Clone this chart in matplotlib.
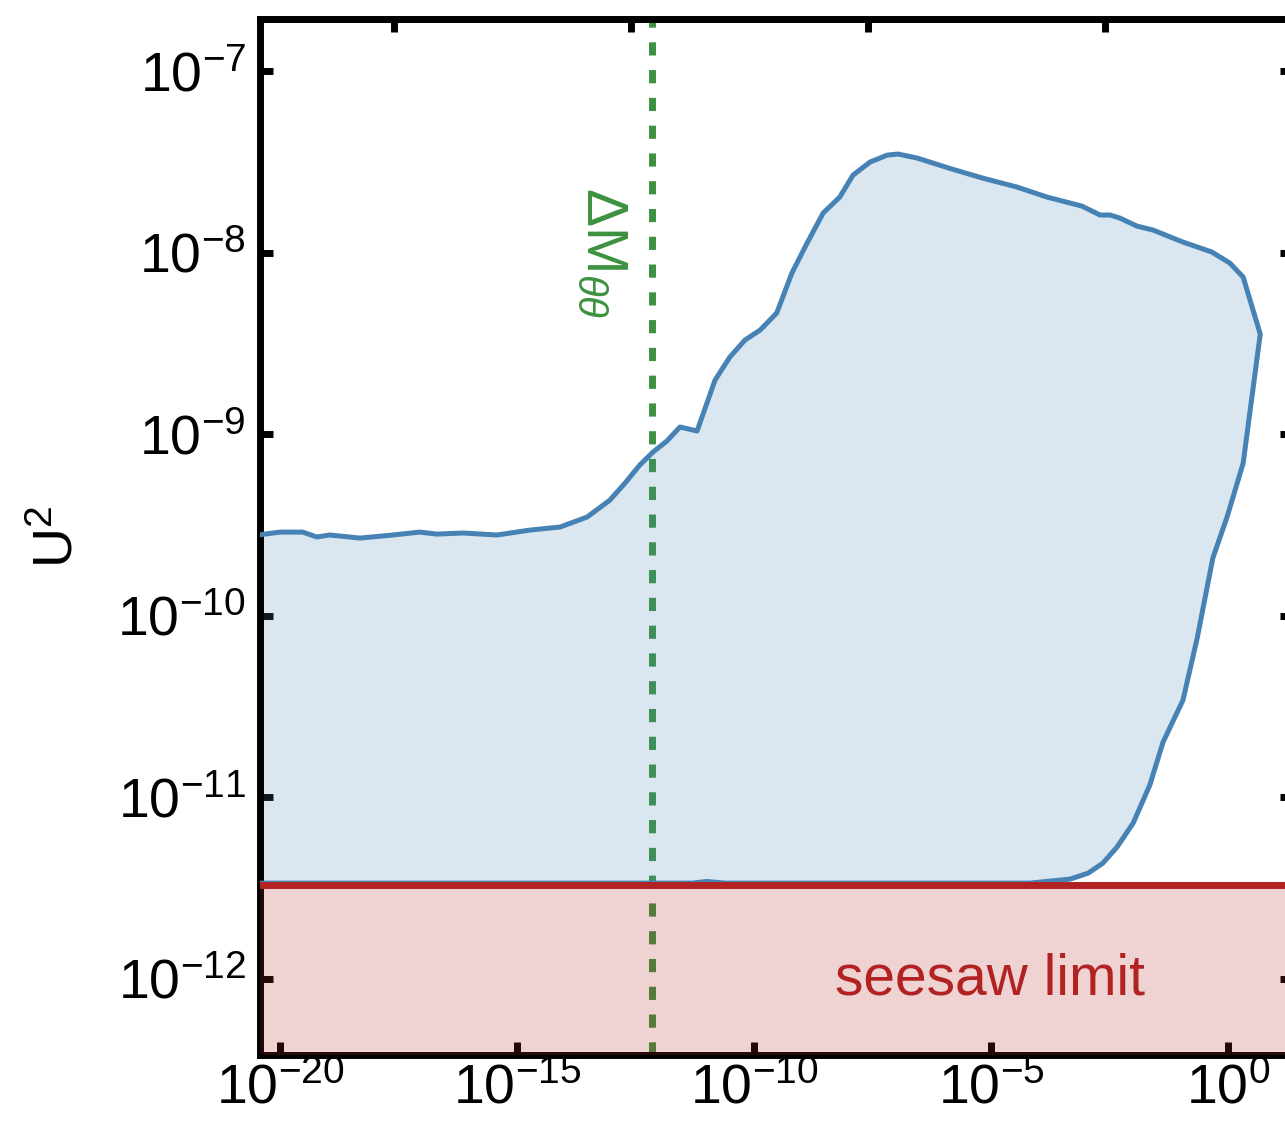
# %%
import numpy as np
import matplotlib.pyplot as plt
from matplotlib.ticker import NullLocator, NullFormatter

plt.rcParams['font.family'] = ['Liberation Sans', 'DejaVu Sans']
plt.rcParams['mathtext.fontset'] = 'custom'
plt.rcParams['mathtext.rm'] = 'Liberation Sans'
plt.rcParams['mathtext.it'] = 'Liberation Sans:italic'
plt.rcParams['mathtext.bf'] = 'Liberation Sans:bold'

# %%
## data (log10 of M and U^2 along the region edge)
edge_log_m = [-20.46, -20.0, -19.52, -19.22, -18.95, -18.31, -17.62, -17.05, -16.69,
              -16.14, -15.42, -14.73, -14.09, -13.52, -13.04, -12.72, -12.41, -12.13,
              -11.84, -11.56, -11.20, -10.82, -10.51, -10.19, -9.87, -9.52, -9.20,
              -8.88, -8.54, -8.19, -7.91, -7.55, -7.19, -6.96, -6.56, -6.22, -5.82,
              -5.17, -4.45, -3.82, -3.08, -2.70, -2.49, -2.28, -1.92, -1.58, -0.95,
              -0.34, 0.04, 0.32, 0.68, 0.32, -0.02, -0.32, -0.65, -0.95, -1.37,
              -1.65, -2.00, -2.34, -2.64, -2.95, -3.33, -3.76, -4.18, -7.0, -10.6,
              -11.0, -11.3, -20.46]
edge_log_u2 = [-9.556, -9.540, -9.540, -9.567, -9.556, -9.573, -9.556, -9.540, -9.551,
               -9.545, -9.556, -9.529, -9.512, -9.457, -9.364, -9.270, -9.171, -9.099,
               -9.039, -8.961, -8.983, -8.702, -8.576, -8.482, -8.427, -8.333, -8.113,
               -7.948, -7.782, -7.694, -7.573, -7.501, -7.463, -7.457, -7.479, -7.507,
               -7.540, -7.590, -7.639, -7.694, -7.744, -7.793, -7.793, -7.810, -7.854,
               -7.876, -7.942, -7.997, -8.058, -8.135, -8.449, -9.160, -9.457, -9.683,
               -10.124, -10.466, -10.697, -10.934, -11.143, -11.275, -11.364, -11.419,
               -11.452, -11.463, -11.474, -11.474, -11.474, -11.465, -11.474, -11.474]

seesaw_u2 = 3.27e-12
dm_theta = 7.1e-13

xticks = [1e-20, 1e-15, 1e-10, 1e-5, 1e0]
yticks = [1e-12, 1e-11, 1e-10, 1e-9, 1e-8, 1e-7]
top_ticks = [1e-15, 1e-10, 1e-5, 1e0]
top_shift = 10**2.6

blue = '#4682b4'
red = '#b22222'
green = '#3d9140'

# %%
fig = plt.figure(figsize=(12.85, 11.23), dpi=100)
ax = fig.add_axes([260/1285, 1 - 1055/1123, 1033/1285, 1036/1123])
ax.set_xscale('log')
ax.set_yscale('log')
ax.set_xlim(10**-20.42, 10**1.371)
ax.set_ylim(10**-12.421, 10**-6.713)

m = 10.0**np.array(edge_log_m)
u2 = 10.0**np.array(edge_log_u2)

ax.axvline(dm_theta, color=green, lw=5, dashes=(1.9, 2.1), zorder=1)
ax.fill(m, u2, color=blue, alpha=0.2, lw=0, zorder=2)
ax.plot(m, u2, color=blue, lw=3.6, zorder=3)

xl = ax.get_xlim()
ax.fill_between(xl, ax.get_ylim()[0], seesaw_u2, color=red, alpha=0.2, lw=0, zorder=4)
ax.axhline(seesaw_u2, color=red, lw=5, zorder=5)
ax.set_xlim(xl)

ax.text(0.7067, 0.058, 'seesaw limit', color=red, fontsize=41,
        ha='center', va='baseline', transform=ax.transAxes, zorder=6)
ax.text(0.331, 0.775, r'$\Delta\mathrm{M}_{\theta\theta}$', color=green, fontsize=41,
        rotation=270, ha='center', va='center', transform=ax.transAxes, zorder=6)

ax.set_ylabel(r'U$^2$', fontsize=40)
ax.yaxis.set_label_coords(-0.17, 0.5)

ax.set_xticks(xticks)
ax.set_yticks(yticks)
ax.xaxis.set_minor_locator(NullLocator())
ax.yaxis.set_minor_locator(NullLocator())
ax.tick_params(which='major', direction='in', length=9.5, width=5,
               labelsize=40, right=True, top=False)
ax.tick_params(axis='y', pad=10)
ax.tick_params(axis='x', pad=6)
for s in ax.spines.values():
    s.set_linewidth(5)

sec = ax.secondary_xaxis('top', functions=(lambda x: x * top_shift,
                                           lambda x: x / top_shift))
sec.set_xticks(top_ticks)
sec.xaxis.set_minor_locator(NullLocator())
sec.xaxis.set_major_formatter(NullFormatter())
sec.tick_params(direction='in', length=9.5, width=5)
sec.spines['top'].set_linewidth(5)

fig.savefig('out.png', dpi=100)
